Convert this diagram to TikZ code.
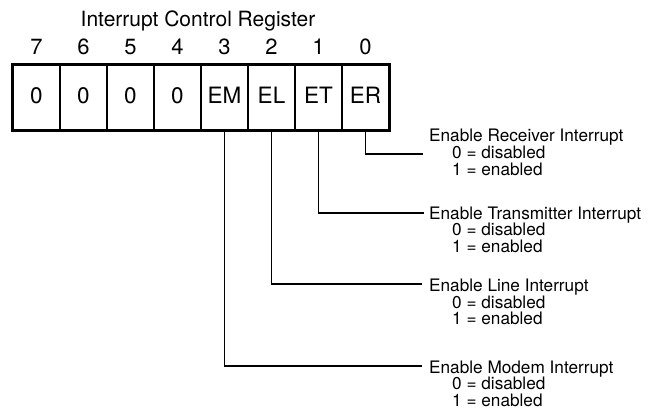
\documentclass[tikz,border=0pt]{standalone}
\usepackage{fontspec}
\setmainfont{TeX Gyre Heros}
\begin{document}
\begin{tikzpicture}[x=1pt,y=-1pt,
  cell/.style={draw,line width=2pt,minimum width=47pt,minimum height=65pt,inner sep=0pt},
  celltext/.style={anchor=base,inner sep=0pt,font=\fontsize{22.5}{22.5}\selectfont},
  bitnum/.style={anchor=base,inner sep=0pt,font=\fontsize{22}{22}\selectfont},
  desc/.style={anchor=base west,inner sep=0pt,align=left,font=\fontsize{17.2}{16.5}\selectfont},
  conn/.style={line width=1.3pt}]
\useasboundingbox (0,0) rectangle (658,409);
\node[anchor=base,inner sep=0pt,font=\fontsize{21}{21}\selectfont] (title) at (198,27) {Interrupt Control Register};
\foreach \i/\t [count=\k from 0] in {7/0,6/0,5/0,4/0,3/EM,2/EL,1/ET,0/ER}{
  \node[cell] (c\i) at ({36.5+47*\k},97.5) {};
  \node[celltext] (t\i) at ({36.5+47*\k},104) {\t};
  \node[bitnum] (b\i) at ({36.5+47*\k},55) {\i};
}
\draw[line width=2.6pt] (c7.north west) rectangle (c0.south east);
\coordinate (pr) at (423,154);
\coordinate (pt) at (424,213);
\coordinate (pl) at (422,284);
\coordinate (pm) at (422,366);
\draw[conn] (c0.south) |- (pr);
\draw[conn] (c1.south) |- (pt);
\draw[conn] (c2.south) |- (pl);
\draw[conn] (c3.south) |- (pm);
\node[desc] (lr) at (429,175) {Enable Receiver Interrupt\\\hspace*{23pt}0 = disabled\\\hspace*{23pt}1 = enabled};
\node[desc] (lt) at (429,252) {Enable Transmitter Interrupt\\\hspace*{23pt}0 = disabled\\\hspace*{23pt}1 = enabled};
\node[desc] (ll) at (429,324.5) {Enable Line Interrupt\\\hspace*{23pt}0 = disabled\\\hspace*{23pt}1 = enabled};
\node[desc] (lm) at (429,406) {Enable Modem Interrupt\\\hspace*{23pt}0 = disabled\\\hspace*{23pt}1 = enabled};
\end{tikzpicture}
\end{document}
